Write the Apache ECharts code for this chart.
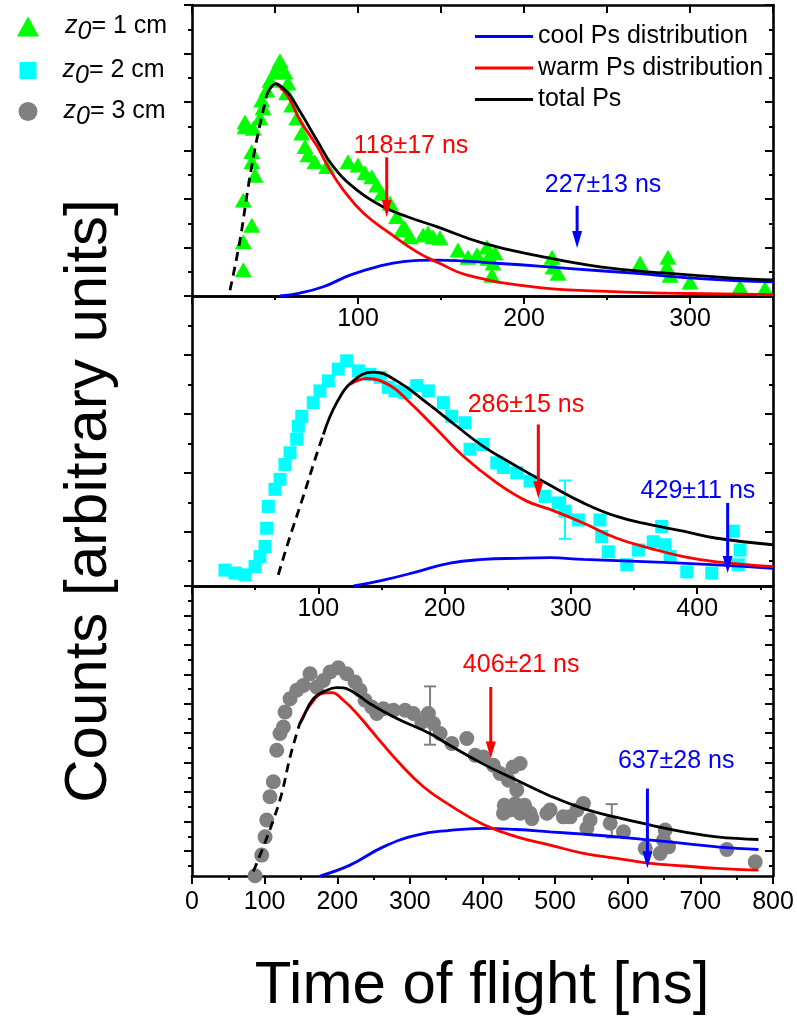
<!DOCTYPE html>
<html><head><meta charset="utf-8">
<script src="https://cdn.jsdelivr.net/npm/echarts@6/dist/echarts.min.js"></script>
<style>html,body{margin:0;padding:0;background:#fff}#c{width:797px;height:1018px}</style>
</head><body><div id="c"></div>
<script>
// ---------------- DATA ----------------
// Panel 1 (z0 = 1 cm)
const tri1 = [[30.9,0.54],[30.9,1.12],[36.0,1.46],[30.9,1.98],[38.0,2.49],[36.0,2.77],[36.0,2.98],[31.9,3.49],[31.9,3.59],[36.9,3.46],[41.0,3.67],[42.8,3.88],[42.0,4.04],[45.0,4.25],[47.0,4.45],[50.0,4.62],[51.8,4.76],[53.0,4.85],[56.0,4.62],[57.8,4.39],[57.0,4.19],[60.1,3.94],[63.1,3.67],[66.1,3.36],[68.1,3.08],[69.9,2.91],[74.1,2.77],[81.1,2.67],[94.0,2.77],[100.0,2.70],[104.2,2.54],[108.3,2.46],[111.3,2.29],[114.3,2.12],[119.3,1.92],[123.3,1.64],[126.3,1.36],[128.3,1.40],[131.3,1.22],[139.2,1.26],[142.2,1.30],[145.2,1.22],[149.4,1.20],[160.2,0.95],[166.3,0.80],[171.7,0.85],[177.7,1.01],[178.3,0.78],[181.3,0.68],[182.5,0.89],[180.7,0.43],[216.9,0.80],[217.5,0.60],[220.5,0.47],[269.9,0.68],[286.7,0.80],[286.1,0.60],[288.0,0.43],[300.0,0.29],[330.1,0.19],[345.2,0.16]];
const rise1 = [[22.9,0.12],[28.9,1.15],[33.9,2.25],[39.0,3.22],[45.0,4.14]];
const total1 = [[45.0,4.14],[50.6,4.38],[55,4.28],[59,4.14],[66.9,3.70],[75.1,3.22],[85.1,2.67],[99.2,2.19],[115.2,1.84],[129.3,1.64],[147.4,1.43],[175.3,1.09],[205.4,0.85],[245.8,0.60],[286,0.47],[326,0.37],[350,0.33]];
const warm1 = [[50.6,4.38],[55,4.24],[59,4.05],[65.1,3.62],[75.1,3.10],[83.1,2.60],[91.1,2.19],[103.2,1.71],[119.3,1.29],[135.4,0.91],[149.4,0.67],[165.7,0.43],[205.4,0.19],[245.8,0.10],[286,0.06],[350,0.03]];
const cool1 = [[53,0.0],[65,0.06],[79.1,0.19],[95.2,0.43],[111.3,0.60],[127.3,0.71],[147.4,0.74],[185.5,0.67],[225.9,0.57],[265.7,0.47],[306,0.36],[350,0.29]];
// annotations: [arrowX, arrowTopY, arrowTipY, textX, textY, text, kind]
const annot1 = [[117.3,2.86,1.63,131.9,3.09,'118±17 ns','warm'],[232,1.86,0.99,247.6,2.29,'227±13 ns','cool']];

// Panel 2 (z0 = 2 cm)
const sq2 = [[26.1,0.35],[34.0,0.30],[42.0,0.27],[49.9,0.41],[53.8,0.58],[57.8,0.75],[59.1,1.06],[60.4,1.43],[65.7,1.72],[69.7,1.89],[73.6,2.14],[77.6,2.34],[82.9,2.57],[84.2,2.79],[86.9,2.96],[96.0,3.19],[101.3,3.39],[107.9,3.56],[115.8,3.76],[122.5,3.90],[131.7,3.73],[140.9,3.67],[148.9,3.62],[155.4,3.45],[160.7,3.39],[168.6,3.36],[177.9,3.48],[187.1,3.39],[199.0,3.19],[205.6,2.96],[216.2,2.85],[220.1,2.40],[230.6,2.48],[241.3,2.17],[246.5,2.09],[257.1,2.00],[267.6,1.86],[279.5,1.60],[290.0,1.49],[295.3,1.35],[305.9,1.20],[323.0,1.20],[324.4,0.92],[329.6,0.66],[344.2,0.44],[353.4,0.69],[365.2,0.83],[371.9,1.09],[374.5,0.78],[378.5,0.58],[391.7,0.32],[411.5,0.30],[428.6,1.01],[433.9,0.69],[432.5,0.44]];
const err2 = [[295.3,0.88,1.87]];
const rise2 = [[68.3,0.27],[77.6,0.92],[88.1,1.60],[97.4,2.23],[104.0,2.65]];
const total2 = [[104.0,2.65],[114.6,3.19],[127.7,3.56],[143.5,3.71],[162.1,3.56],[185.8,3.19],[209.6,2.79],[230.6,2.45],[257.1,2.11],[283.5,1.79],[309.8,1.49],[336.3,1.26],[362.6,1.12],[389,1.01],[415.4,0.89],[460,0.78]];
const warm2 = [[125,3.50],[138.3,3.60],[156.8,3.48],[172.6,3.19],[193.7,2.74],[214.8,2.28],[241.3,1.83],[265.0,1.52],[283.5,1.38],[309.8,1.15],[336.3,0.89],[362.6,0.72],[389,0.58],[415.4,0.49],[460,0.41]];
const cool2 = [[128,0.08],[151.5,0.18],[177.9,0.32],[204.3,0.47],[230.6,0.53],[257.1,0.55],[283.5,0.56],[309.8,0.53],[362.6,0.49],[415.4,0.44],[460,0.38]];
const annot2 = [[274.2,2.82,1.57,264.4,3.15,'286±15 ns','warm'],[424.1,1.49,0.30,400.6,1.69,'429±11 ns','cool']];

// Panel 3 (z0 = 3 cm)
const circ3 = [[86.8,0.16],[96.0,0.86],[100.6,1.48],[102.9,2.05],[107.4,2.84],[112.0,3.35],[116.7,4.42],[121.2,4.99],[125.8,5.21],[128.1,5.72],[135.0,6.17],[144.2,6.46],[153.3,6.62],[162.5,7.02],[171.8,6.57],[180.9,6.79],[190.1,7.08],[201.5,7.22],[213.1,7.02],[224.5,6.74],[231.4,6.46],[238.3,6.12],[247.5,5.89],[254.4,5.67],[263.5,5.83],[277.3,5.78],[293.4,5.78],[304.8,5.67],[316.4,5.38],[325.5,5.67],[332.4,5.33],[341.6,4.99],[357.7,4.65],[378.4,4.82],[389.8,4.25],[401.2,4.19],[415.0,3.91],[424.2,3.63],[435.7,3.40],[442.1,3.85],[451.8,3.97],[447.2,3.07],[438.0,2.39],[451.8,2.28],[428.8,2.28],[430,2.55],[445,2.60],[458,2.55],[468,2.10],[465.6,2.28],[488.6,2.28],[493.1,2.39],[511.4,2.16],[530,2.39],[520.7,2.16],[539.0,2.61],[548.2,2.05],[543.7,1.77],[575.8,1.94],[594.1,1.65],[624.0,1.09],[644.6,0.92],[649.2,1.37],[651.5,1.71],[656.1,1.14],[736.5,1.05],[775.5,0.63]];
const err3 = [[327.8,4.61,6.59],[578,1.46,2.59]];
const rise3 = [[84.4,0.30],[98.2,1.14],[112.0,2.05],[123.5,2.95],[135.0,4.19],[144.2,4.99],[148,5.30]];
const total3 = [[148,5.30],[151.1,5.44],[167.1,6.17],[185.5,6.46],[199.3,6.55],[217.6,6.46],[245.2,6.00],[282.0,5.50],[327.5,4.99],[355.4,4.58],[401.2,3.95],[447.2,3.40],[493.1,2.87],[539,2.44],[585,2.14],[631.4,1.88],[676.7,1.65],[722.7,1.48],[780,1.39]];
const warm3 = [[148,5.30],[162.5,5.95],[180.9,6.36],[192.4,6.38],[208.4,6.12],[226.9,5.67],[254.4,4.87],[282.0,4.08],[318.6,3.18],[355.4,2.55],[401.2,1.90],[447.2,1.48],[493.1,1.20],[539,0.92],[585,0.75],[631.4,0.58],[676.7,0.49],[722.7,0.41],[780,0.35]];
const cool3 = [[176,0.15],[217.6,0.52],[263.5,1.14],[309.5,1.54],[355.4,1.70],[401.2,1.77],[447.2,1.73],[493.1,1.65],[539,1.57],[585,1.48],[631.4,1.37],[676.7,1.26],[722.7,1.14],[780,1.05]];
const annot3 = [[411.4,6.57,4.14,453.2,7.30,'406±21 ns','warm'],[627.1,3.12,0.41,666.7,4.05,'637±28 ns','cool']];

// axis ranges and ticks
const xRange = [[0,350],[0,460],[0,800]];
const yRange = [[0,6],[0.08,5],[0.15,10]];
const xMajor = [[0,100,200,300],[0,100,200,300,400],[0,100,200,300,400,500,600,700,800]];
const xMinor = [[50,150,250,350],[50,150,250,350,450],[50,150,250,350,450,550,650,750]];
const xLabels = [[100,200,300],[100,200,300,400],[0,100,200,300,400,500,600,700,800]];
const yMajor = [[0,1,2,3,4,5,6],[1,2,3,4,5],[1,2,3,4,5,6,7,8,9,10]];
const yMinor = [[0.5,1.5,2.5,3.5,4.5,5.5],[0.5,1.5,2.5,3.5,4.5],[0.5,1.5,2.5,3.5,4.5,5.5,6.5,7.5,8.5,9.5]];

const seriesNames = ['z0 = 1 cm','z0 = 2 cm','z0 = 3 cm'];
const lineNames = ['cool Ps distribution','warm Ps distribution','total Ps'];
const yTitle = 'Counts [arbitrary units]';
const xTitle = 'Time of flight [ns]';

// ---------------- STYLE / BUILD ----------------
const FONT = '"Liberation Sans", Arial, sans-serif';
const C = {cool:'#0000ff', warm:'#ff0000', total:'#000000'};
const markerColors = ['#00ff00','#00ffff','#808080'];
const gridLayout = [{top:5,height:291},{top:296,height:290},{top:586,height:290}];
const labelMargin = [11,11,14];

const grid = gridLayout.map(g => ({left:192, width:581, top:g.top, height:g.height, containLabel:false, show:false}));
const xAxis = [], yAxis = [], mainX = [], mainY = [];
const AX = {color:'#000', width:2.6};
for (let i = 0; i < 3; i++) {
  mainX.push(xAxis.length);
  xAxis.push({type:'value', gridIndex:i, min:xRange[i][0], max:xRange[i][1], position:'bottom',
    axisLine:{show:true, onZero:false, lineStyle:AX},
    axisTick:{show:true, inside:false, length:8, lineStyle:{color:'#000', width:2}, customValues:xMajor[i]},
    axisLabel:{show:true, customValues:xLabels[i], margin:labelMargin[i], fontSize:25, color:'#000', fontFamily:FONT},
    splitLine:{show:false}});
  xAxis.push({type:'value', gridIndex:i, min:xRange[i][0], max:xRange[i][1], position:'bottom',
    axisLine:{show:false, onZero:false},
    axisTick:{show:true, inside:false, length:4, lineStyle:{color:'#000', width:2}, customValues:xMinor[i]},
    axisLabel:{show:false}, splitLine:{show:false}});
  xAxis.push({type:'value', gridIndex:i, min:xRange[i][0], max:xRange[i][1], position:'top',
    axisLine:{show:true, onZero:false, lineStyle:AX},
    axisTick:{show:i===0, inside:true, length:8, lineStyle:{color:'#000', width:2}, customValues:xMajor[i]},
    axisLabel:{show:false}, splitLine:{show:false}});
  xAxis.push({type:'value', gridIndex:i, min:xRange[i][0], max:xRange[i][1], position:'top',
    axisLine:{show:false, onZero:false},
    axisTick:{show:i===0, inside:true, length:8, lineStyle:{color:'#000', width:2}, customValues:xMinor[i]},
    axisLabel:{show:false}, splitLine:{show:false}});
  mainY.push(yAxis.length);
  [['left',false],['right',true]].forEach(([pos,inside]) => {
    yAxis.push({type:'value', gridIndex:i, min:yRange[i][0], max:yRange[i][1], position:pos,
      axisLine:{show:true, onZero:false, lineStyle:AX},
      axisTick:{show:true, inside:inside, length:8, lineStyle:{color:'#000', width:2}, customValues:yMajor[i]},
      axisLabel:{show:false}, splitLine:{show:false}});
    yAxis.push({type:'value', gridIndex:i, min:yRange[i][0], max:yRange[i][1], position:pos,
      axisLine:{show:false, onZero:false},
      axisTick:{show:true, inside:inside, length:4, lineStyle:{color:'#000', width:2}, customValues:yMinor[i]},
      axisLabel:{show:false}, splitLine:{show:false}});
  });
}

const points = [tri1, sq2, circ3];
const symbols = ['triangle','rect','circle'];
const symSizes = [[17,15],13,15];
const rises = [rise1, rise2, rise3];
const totals = [total1, total2, total3];
const warms = [warm1, warm2, warm3];
const cools = [cool1, cool2, cool3];
const annots = [annot1, annot2, annot3];
const errs = [[], err2, err3];

const series = [];
for (let i = 0; i < 3; i++) {
  const ax = {xAxisIndex:mainX[i], yAxisIndex:mainY[i]};
  series.push(Object.assign({type:'scatter', name:seriesNames[i], data:points[i], symbol:symbols[i], symbolSize:symSizes[i],
    itemStyle:{color:markerColors[i], opacity:1}, z:2, clip:false, silent:true}, ax));
  if (errs[i].length) {
    const E = errs[i];
    series.push(Object.assign({type:'custom', data:E.map(e => [e[0], e[1], e[2]]), z:3, clip:false, silent:true,
      renderItem:(p, api) => {
        const lo = api.coord([api.value(0), api.value(1)]);
        const hi = api.coord([api.value(0), api.value(2)]);
        const st = {stroke:markerColors[i], lineWidth:2};
        return {type:'group', children:[
          {type:'line', shape:{x1:lo[0], y1:lo[1], x2:hi[0], y2:hi[1]}, style:st},
          {type:'line', shape:{x1:lo[0]-6, y1:lo[1], x2:lo[0]+6, y2:lo[1]}, style:st},
          {type:'line', shape:{x1:hi[0]-6, y1:hi[1], x2:hi[0]+6, y2:hi[1]}, style:st}]};
      }}, ax));
  }
  const lineCommon = {type:'line', showSymbol:false, symbol:'none', smooth:0.45, z:4, silent:true, clip:true};
  series.push(Object.assign({}, lineCommon, {name:lineNames[0], data:cools[i], color:C.cool, itemStyle:{color:C.cool}, lineStyle:{color:C.cool, width:2.8}}, ax));
  series.push(Object.assign({}, lineCommon, {name:lineNames[1], data:warms[i], color:C.warm, itemStyle:{color:C.warm}, lineStyle:{color:C.warm, width:2.8}}, ax));
  series.push(Object.assign({}, lineCommon, {name:lineNames[2], data:totals[i], color:C.total, itemStyle:{color:C.total}, lineStyle:{color:C.total, width:2.8}}, ax));
  series.push(Object.assign({}, lineCommon, {name:'rise'+i, data:rises[i], color:C.total, itemStyle:{color:C.total}, lineStyle:{color:C.total, width:2.8, type:[9,6]}}, ax));
  const A = annots[i];
  series.push(Object.assign({type:'custom', data:A.map(a => [a[0], a[1], a[2]]), z:6, clip:false, silent:true,
    renderItem:(p, api) => {
      const a = A[p.dataIndex];
      const col = C[a[6]];
      const top = api.coord([a[0], a[1]]);
      const tip = api.coord([a[0], a[2]]);
      const tp = api.coord([a[3], a[4]]);
      const head = 17, hw = 5;
      return {type:'group', children:[
        {type:'line', shape:{x1:top[0], y1:top[1], x2:tip[0], y2:tip[1]-head+3}, style:{stroke:col, lineWidth:3}},
        {type:'polygon', shape:{points:[[tip[0]-hw, tip[1]-head],[tip[0]+hw, tip[1]-head],[tip[0], tip[1]]]}, style:{fill:col}},
        {type:'text', x:tp[0], y:tp[1], style:{text:a[5], fill:col, font:'25px ' + FONT, align:'center', verticalAlign:'middle'}}]};
    }}, ax));
}

const rich = {
  g:{width:21},
  z:{fontStyle:'italic', fontSize:25, fontFamily:FONT, lineHeight:30, color:'#000'},
  s:{fontStyle:'italic', fontSize:25, fontFamily:FONT, lineHeight:26, padding:[12,0,0,0], color:'#000'},
  n:{fontSize:25, fontFamily:FONT, lineHeight:30, color:'#000'}
};
const markerLegendTop = [3, 47, 88];
const markerLegendSize = [[22,20],[17,17],[19,19]];
const markerLegendLeft = [12, 14.5, 13.5];
const legends = seriesNames.map((nm, i) => ({
  orient:'vertical', left:markerLegendLeft[i], top:markerLegendTop[i], data:[{name:nm, icon:symbols[i]}],
  itemWidth:markerLegendSize[i][0], itemHeight:markerLegendSize[i][1], selectedMode:false,
  formatter: n => '{g|}{z|z}{s|0}{n|= ' + n.split('= ')[1] + '}',
  textStyle:{rich:rich, fontSize:25, fontFamily:FONT}
}));
legends.push({orient:'vertical', left:470, top:16, itemGap:0.5, itemWidth:58, itemHeight:3, selectedMode:false,
  data:lineNames.map(n => ({name:n, icon:'rect'})),
  textStyle:{fontSize:25, fontFamily:FONT, color:'#000', lineHeight:31}});

const chart = echarts.init(document.getElementById('c'), null, {renderer:'canvas'});
chart.setOption({
  animation:false,
  backgroundColor:'#fff',
  textStyle:{fontFamily:FONT},
  grid, xAxis, yAxis, series,
  legend: legends,
  graphic:[
    {type:'text', x:89, y:501, rotation:Math.PI/2, style:{text:yTitle, font:'60px ' + FONT, fill:'#000', align:'center', verticalAlign:'middle'}},
    {type:'text', x:482, y:986, style:{text:xTitle, font:'60px ' + FONT, fill:'#000', align:'center', verticalAlign:'middle'}}
  ]
});
</script>
</body></html>
